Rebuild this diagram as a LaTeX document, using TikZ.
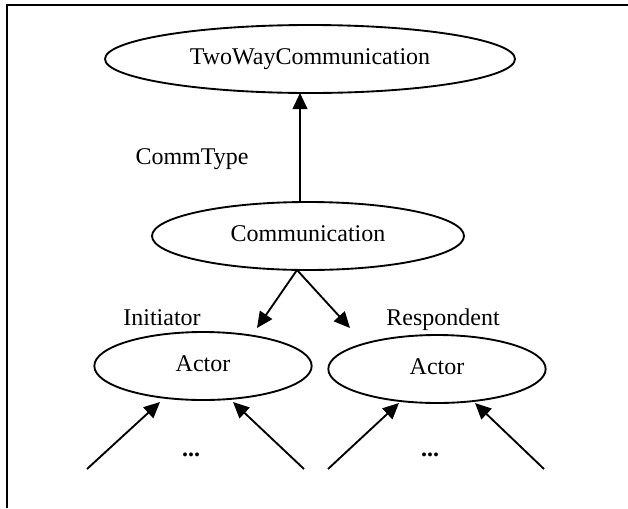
\documentclass[tikz,border=0pt]{standalone}
\usepackage{fontspec}
\setmainfont{Liberation Serif}
\usetikzlibrary{shapes.geometric,arrows.meta}
\begin{document}
\begin{tikzpicture}[x=0.75pt,y=-0.75pt,
  txt/.style={font=\fontsize{18}{22}\selectfont},
  concept/.style={txt, draw, ellipse, line width=1.4pt, inner sep=0pt,
    text height=12pt, text depth=4pt, minimum height=51pt},
  lbl/.style={txt, anchor=base, inner sep=0pt},
  arr/.style={-{Triangle[length=12pt,width=11pt]}, line width=1.4pt}]
\useasboundingbox (0,0) rectangle (628,508);
% frame lines
\draw[line width=1.6pt] (7,508) -- (7,5) -- (628,5);

% concepts
\node[concept, minimum width=307.5pt] (tw) at (310,59) {TwoWayCommunication};
\node[concept, minimum width=234pt] (comm) at (308,236) {Communication};
\node[concept, minimum width=163pt] (a1) at (203,366) {Actor};
\node[concept, minimum width=163pt] (a2) at (437,369) {Actor};

% role labels
\node[lbl] (ct) at (192,164) {CommType};
\node[lbl] (ini) at (162,325) {Initiator};
\node[lbl] (res) at (443,325) {Respondent};
\node[lbl] (d1) at (191,456) {\textbf{...}};
\node[lbl] (d2) at (430,456) {\textbf{...}};

% connector end points
\coordinate (up0) at (300,203);
\coordinate (up1) at (300,93);
\coordinate (down0) at (297,270);
\coordinate (iniTip) at (257,328);
\coordinate (resTip) at (350,328);
\coordinate (l1) at (87,469);
\coordinate (l1t) at (160,402);
\coordinate (l2) at (304,469);
\coordinate (l2t) at (233,402);
\coordinate (r1) at (328,469);
\coordinate (r1t) at (399,403);
\coordinate (r2) at (544,469);
\coordinate (r2t) at (475,403);

% connectors
\draw[arr] (up0) -- (up1);
\draw[arr] (down0) -- (iniTip);
\draw[arr] (down0) -- (resTip);
\draw[arr] (l1) -- (l1t);
\draw[arr] (l2) -- (l2t);
\draw[arr] (r1) -- (r1t);
\draw[arr] (r2) -- (r2t);
\end{tikzpicture}
\end{document}
